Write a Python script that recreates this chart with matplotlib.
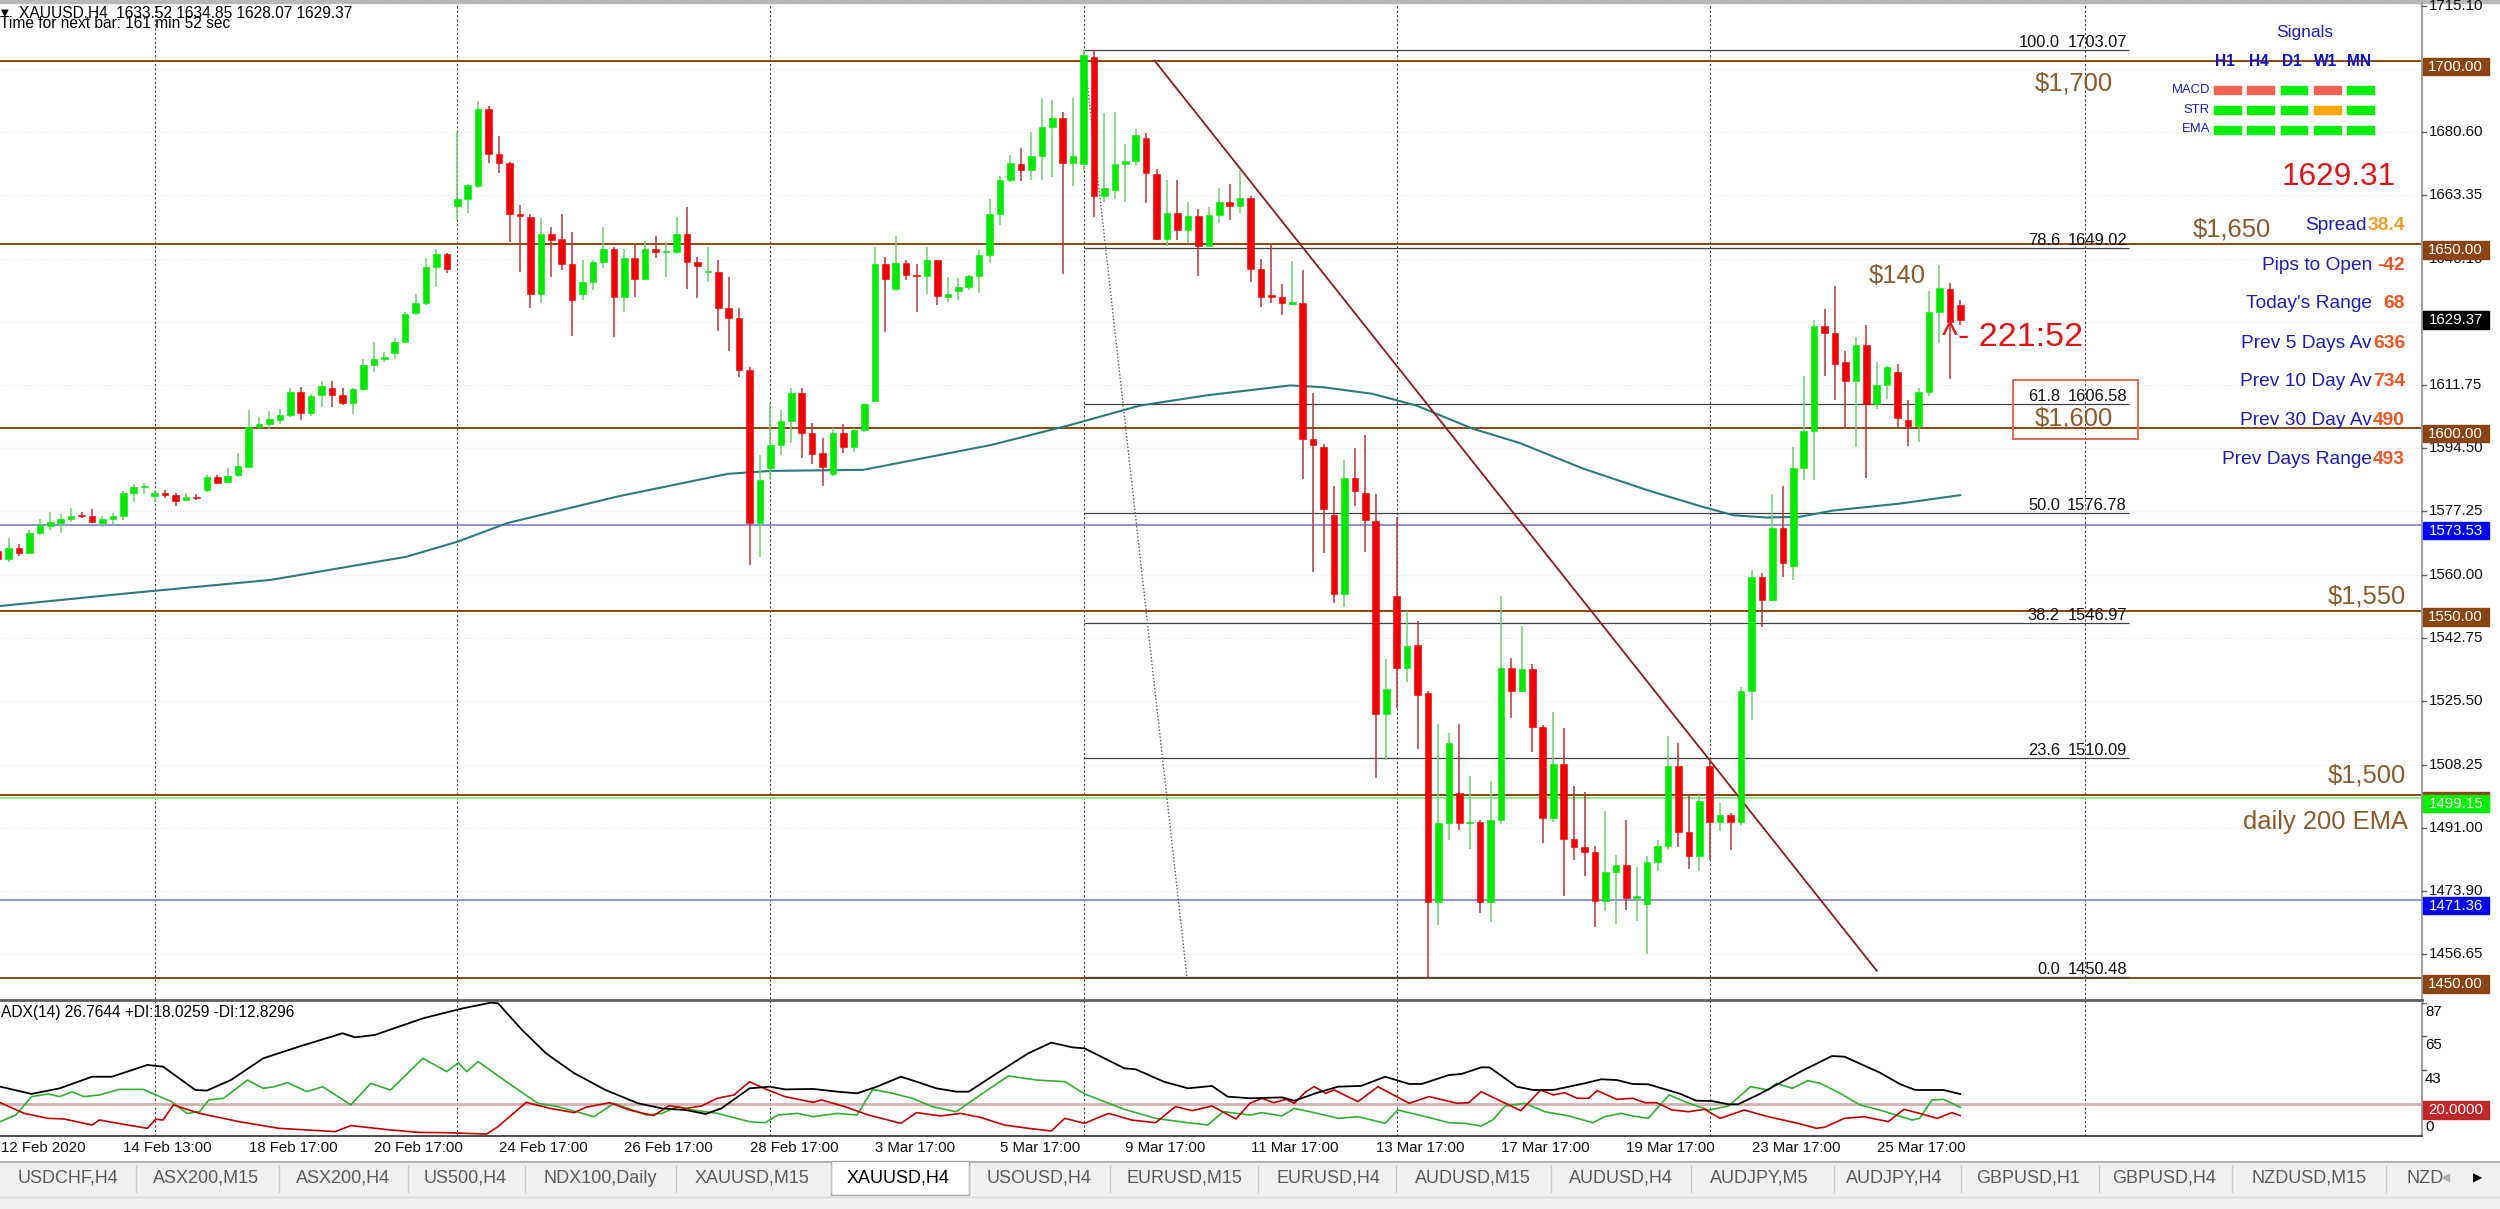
import numpy as np
import matplotlib
matplotlib.use("Agg")
import matplotlib.pyplot as plt
from matplotlib.patches import Rectangle
from matplotlib.transforms import Bbox, TransformedBbox

plt.rcParams['font.family'] = ['Liberation Sans', 'DejaVu Sans']

# ---------------------------------------------------------------- data
header_text = "XAUUSD,H4  1633.52 1634.85 1628.07 1629.37"
timer_text = "Time for next bar: 161 min 52 sec"
adx_text = "ADX(14) 26.7644 +DI:18.0259 -DI:12.8296"

opens = [
    1566.5, 1564.3, 1567.2, 1566.0, 1571.3, 1573.3, 1574.2, 1575.3, 1576.2, 1576.0,
    1574.2, 1575.2, 1576.0, 1582.4, 1584.0, 1581.4, 1582.3, 1581.7, 1580.3, 1581.2,
    1583.2, 1586.7, 1585.2, 1587.1, 1589.4, 1600.3, 1601.2, 1602.1, 1603.5, 1609.7,
    1604.2, 1608.9, 1611.0, 1608.9, 1606.7, 1610.5, 1617.1, 1618.9, 1620.3, 1623.5,
    1631.2, 1634.1, 1643.9, 1647.5, 1660.5, 1662.4, 1665.9, 1686.8, 1674.6, 1672.1,
    1658.3, 1657.5, 1636.6, 1652.8, 1651.4, 1644.8, 1636.6, 1639.8, 1645.1, 1648.9,
    1635.6, 1646.2, 1640.5, 1648.9, 1648.0, 1648.0, 1652.8, 1645.1, 1642.6, 1642.6,
    1632.8, 1630.1, 1615.8, 1574.0, 1589.0, 1595.3, 1602.0, 1609.4, 1598.7, 1593.1,
    1587.4, 1598.5, 1594.9, 1599.4, 1607.4, 1644.6, 1638.0, 1645.0, 1641.8, 1641.5,
    1645.7, 1635.7, 1637.4, 1638.3, 1641.5, 1647.1, 1658.3, 1667.5, 1671.9, 1670.4,
    1674.2, 1682.1, 1684.6, 1672.2, 1672.0, 1701.0, 1663.3, 1664.9, 1671.9, 1672.7,
    1678.9, 1669.3, 1651.6, 1658.6, 1653.9, 1657.8, 1649.7, 1658.1, 1661.7, 1660.6,
    1662.8, 1643.4, 1636.2, 1635.8, 1633.9, 1634.0, 1597.1, 1594.9, 1576.2, 1554.9,
    1586.3, 1582.4, 1574.6, 1522.0, 1554.1, 1534.6, 1540.8, 1527.7, 1470.9, 1492.3,
    1500.6, 1492.3, 1492.6, 1470.9, 1493.3, 1534.6, 1528.3, 1534.4, 1518.6, 1493.8,
    1508.4, 1488.1, 1485.8, 1484.6, 1471.2, 1478.9, 1480.9, 1472.0, 1470.4, 1481.8,
    1486.2, 1508.0, 1489.8, 1483.3, 1508.0, 1492.6, 1494.5, 1492.6, 1528.3, 1559.5,
    1553.2, 1572.7, 1562.3, 1589.0, 1599.1, 1627.7, 1626.0, 1617.9, 1612.8, 1622.6,
    1606.5, 1611.8, 1615.3, 1602.3, 1600.6, 1609.9, 1631.5, 1637.8, 1633.52]
highs = [
    1567.5, 1569.9, 1568.5, 1572.3, 1575.3, 1577.2, 1576.5, 1578.1, 1577.0, 1577.8,
    1576.0, 1576.9, 1582.9, 1584.7, 1584.9, 1583.1, 1583.1, 1582.3, 1582.4, 1582.1,
    1587.1, 1587.1, 1589.1, 1593.2, 1604.9, 1603.0, 1604.6, 1605.3, 1610.8, 1611.2,
    1609.2, 1612.8, 1612.8, 1610.8, 1611.0, 1618.9, 1623.5, 1620.8, 1624.4, 1631.7,
    1636.5, 1646.4, 1648.9, 1647.7, 1680.7, 1666.4, 1689.1, 1687.7, 1679.5, 1672.5,
    1660.7, 1658.4, 1657.1, 1654.8, 1658.3, 1653.5, 1645.9, 1645.7, 1654.8, 1649.2,
    1648.9, 1649.8, 1651.0, 1652.3, 1650.7, 1657.5, 1660.3, 1646.6, 1649.4, 1645.7,
    1641.2, 1632.6, 1616.7, 1592.6, 1606.7, 1605.0, 1610.8, 1610.8, 1601.4, 1597.4,
    1599.9, 1601.2, 1599.9, 1606.9, 1649.2, 1646.5, 1652.3, 1645.9, 1644.8, 1649.2,
    1645.9, 1641.2, 1641.0, 1641.8, 1648.5, 1662.3, 1668.7, 1674.3, 1676.4, 1680.7,
    1689.8, 1689.3, 1686.1, 1690.0, 1703.07, 1703.0, 1685.7, 1686.0, 1677.4, 1681.6,
    1680.5, 1670.6, 1667.5, 1667.5, 1661.7, 1659.7, 1660.2, 1665.3, 1666.4, 1670.3,
    1663.3, 1646.1, 1650.3, 1639.1, 1645.6, 1643.0, 1609.6, 1595.6, 1584.3, 1591.3,
    1594.5, 1598.1, 1582.0, 1537.1, 1575.7, 1550.2, 1547.5, 1528.3, 1519.4, 1517.0,
    1519.4, 1505.3, 1493.3, 1503.7, 1554.3, 1537.4, 1546.1, 1535.7, 1519.2, 1522.7,
    1518.2, 1502.4, 1500.8, 1486.2, 1495.7, 1483.7, 1493.2, 1480.5, 1483.3, 1487.7,
    1516.0, 1514.1, 1500.4, 1499.9, 1509.7, 1497.9, 1495.1, 1529.3, 1561.3, 1560.4,
    1582.0, 1584.1, 1594.7, 1614.3, 1629.3, 1632.3, 1638.7, 1620.9, 1624.7, 1628.0,
    1618.1, 1616.9, 1617.5, 1607.7, 1610.8, 1637.4, 1644.5, 1639.5, 1634.85]
lows = [
    1563.0, 1563.5, 1565.0, 1565.6, 1570.8, 1572.2, 1571.5, 1574.4, 1575.5, 1574.0,
    1573.1, 1573.5, 1574.9, 1579.9, 1582.0, 1579.9, 1581.0, 1578.7, 1580.0, 1580.5,
    1582.6, 1584.9, 1584.9, 1586.7, 1589.3, 1599.9, 1599.6, 1601.2, 1603.0, 1602.3,
    1603.2, 1605.8, 1605.8, 1606.2, 1603.7, 1610.2, 1615.3, 1618.0, 1618.9, 1623.3,
    1630.7, 1633.5, 1638.3, 1642.3, 1656.8, 1658.6, 1665.4, 1672.3, 1669.5, 1650.7,
    1642.6, 1632.8, 1634.1, 1641.2, 1643.0, 1625.0, 1635.0, 1637.7, 1643.7, 1624.7,
    1631.7, 1635.7, 1640.3, 1646.4, 1641.2, 1647.5, 1638.0, 1635.3, 1639.8, 1626.5,
    1621.0, 1613.8, 1562.7, 1564.9, 1586.0, 1592.6, 1595.8, 1591.7, 1590.3, 1584.2,
    1587.0, 1593.2, 1593.5, 1599.0, 1607.0, 1626.2, 1637.4, 1640.3, 1631.7, 1636.6,
    1633.5, 1634.4, 1635.0, 1637.6, 1636.9, 1645.0, 1655.3, 1667.1, 1667.3, 1667.5,
    1667.7, 1668.4, 1641.9, 1666.0, 1670.0, 1657.5, 1661.7, 1662.5, 1661.7, 1671.4,
    1661.3, 1651.3, 1649.7, 1651.3, 1650.3, 1641.4, 1649.5, 1655.9, 1656.6, 1658.6,
    1639.8, 1633.1, 1634.0, 1630.9, 1633.4, 1586.2, 1560.8, 1565.8, 1552.2, 1551.1,
    1578.8, 1566.3, 1504.5, 1509.5, 1523.6, 1530.8, 1512.4, 1450.5, 1464.6, 1487.6,
    1490.4, 1485.4, 1467.8, 1465.4, 1492.0, 1521.1, 1528.1, 1511.6, 1486.8, 1492.6,
    1472.5, 1482.4, 1478.0, 1464.0, 1468.5, 1464.9, 1468.7, 1465.7, 1456.8, 1479.2,
    1484.9, 1485.9, 1479.9, 1479.2, 1482.4, 1490.3, 1484.9, 1491.5, 1520.5, 1545.8,
    1552.8, 1559.5, 1558.5, 1585.8, 1585.8, 1614.1, 1607.7, 1599.7, 1594.7, 1586.4,
    1605.2, 1608.0, 1599.7, 1595.1, 1596.3, 1608.6, 1623.2, 1613.3, 1628.07]
closes = [
    1564.4, 1567.2, 1565.8, 1571.3, 1573.5, 1574.4, 1575.3, 1576.0, 1576.0, 1574.3,
    1575.1, 1576.0, 1582.4, 1583.8, 1584.2, 1582.3, 1581.7, 1580.2, 1581.2, 1581.0,
    1586.7, 1585.1, 1587.0, 1589.6, 1600.3, 1601.2, 1602.4, 1603.5, 1609.7, 1604.1,
    1608.8, 1611.4, 1609.1, 1606.7, 1610.5, 1617.1, 1618.8, 1619.4, 1623.3, 1631.0,
    1634.1, 1643.9, 1647.5, 1643.2, 1662.4, 1666.2, 1686.8, 1674.6, 1672.1, 1658.3,
    1657.7, 1636.6, 1652.8, 1651.2, 1644.6, 1634.8, 1639.8, 1645.1, 1648.9, 1635.6,
    1646.2, 1640.7, 1648.9, 1648.0, 1648.2, 1652.8, 1645.3, 1644.2, 1642.8, 1632.8,
    1630.1, 1615.8, 1574.0, 1585.8, 1595.3, 1602.0, 1609.4, 1598.7, 1592.9, 1589.4,
    1598.5, 1594.9, 1599.4, 1606.5, 1644.6, 1640.7, 1645.0, 1641.8, 1641.5, 1645.9,
    1636.0, 1636.6, 1638.3, 1641.5, 1647.1, 1658.3, 1667.5, 1672.1, 1670.4, 1674.2,
    1682.1, 1684.6, 1672.1, 1674.2, 1701.5, 1663.3, 1665.3, 1671.9, 1672.7, 1679.7,
    1669.6, 1651.6, 1658.6, 1653.9, 1657.8, 1649.7, 1658.1, 1661.7, 1660.6, 1662.8,
    1643.4, 1635.6, 1635.8, 1634.0, 1634.1, 1597.1, 1595.3, 1578.0, 1554.9, 1586.3,
    1582.7, 1574.9, 1522.0, 1528.8, 1534.6, 1540.5, 1527.2, 1470.9, 1492.3, 1514.2,
    1492.3, 1492.6, 1470.9, 1493.3, 1534.6, 1528.3, 1534.4, 1518.6, 1493.8, 1508.4,
    1488.1, 1485.8, 1484.6, 1471.2, 1479.0, 1480.8, 1472.0, 1472.5, 1481.8, 1486.2,
    1508.0, 1489.8, 1483.3, 1498.3, 1492.6, 1494.5, 1492.6, 1528.3, 1559.5, 1553.2,
    1572.7, 1563.3, 1589.0, 1599.1, 1627.7, 1626.0, 1617.5, 1612.8, 1622.6, 1606.5,
    1611.8, 1616.6, 1602.7, 1600.6, 1609.9, 1631.5, 1638.2, 1628.9, 1629.37]

ema_bars = [0.2, 12.6, 26.1, 39.1, 44.0, 48.8, 59.3, 69.9, 74.0, 82.9, 95.2, 102.7,
            109.4, 115.8, 123.8, 127.0, 131.7, 135.9, 141.3, 145.8, 151.9, 158.3,
            163.1, 166.3, 169.5, 172.6, 175.8, 182.2, 188.0]
ema_vals = [1551.5, 1555.0, 1558.6, 1564.9, 1569.0, 1574.1, 1581.3, 1587.5, 1588.3,
            1588.6, 1595.4, 1600.8, 1606.1, 1608.9, 1611.6, 1611.1, 1609.3, 1606.1,
            1599.8, 1595.9, 1588.9, 1582.8, 1578.7, 1576.2, 1575.6, 1575.8, 1577.5,
            1579.4, 1581.7]

adx_bars = [0.2, 3.2, 5.9, 9.0, 10.9, 14.3, 15.8, 18.9, 20.0, 22.3, 25.4, 28.8, 33.0,
            34.2, 36.1, 40.7, 44.5, 47.2, 47.9, 50.2, 52.5, 55.2, 58.2, 61.3, 63.6,
            65.9, 67.8, 69.3, 72.0, 73.9, 75.4, 78.1, 80.4, 82.3, 84.2, 86.5, 88.0,
            89.9, 91.8, 93.0, 95.7, 98.7, 100.9, 102.9, 104.1, 107.9, 109.0, 111.7,
            114.0, 116.3, 117.8, 120.0, 123.0, 124.2, 126.4, 128.4, 130.6, 132.9,
            135.2, 136.4, 139.0, 140.2, 142.1, 142.9, 145.5, 147.1, 149.0, 152.0,
            153.6, 155.1, 156.6, 158.1, 161.2, 162.7, 164.2, 165.8, 166.7, 168.8,
            172.7, 175.7, 176.9, 180.3, 182.2, 183.7, 185.6, 186.4, 188.0]
adx_vals = [31.7, 26.9, 30.6, 38.3, 38.3, 46.1, 45.0, 29.5, 29.1, 36.1, 50.5, 58.2, 67.1,
            64.4, 66.0, 77.0, 83.6, 87.4, 87.0, 69.3, 53.8, 40.6, 29.5, 20.7, 17.3,
            16.2, 13.6, 17.3, 30.6, 31.7, 29.9, 30.2, 28.4, 27.3, 31.7, 38.3, 35.0,
            30.6, 28.4, 28.4, 40.6, 53.8, 60.9, 57.8, 57.1, 43.9, 43.2, 35.0,
            30.6, 32.2, 25.1, 24.0, 24.6, 22.4, 27.7, 31.7, 32.2, 38.3,
            33.5, 33.5, 39.4, 40.1, 44.5, 44.5, 31.7, 29.5, 29.5, 33.9,
            36.6, 36.1, 33.5, 33.3, 26.9, 22.4, 22.2, 20.0, 20.0, 26.9,
            41.7, 52.0, 51.6, 41.0, 33.5, 29.5, 29.5, 29.5, 26.8]

pdi_bars = [0.2, 1.7, 3.2, 4.8, 5.9, 7.1, 8.2, 9.7, 11.6, 13.9, 16.6, 18.1, 19.3, 20.2,
            21.6, 23.9, 25.4, 26.5, 27.7, 29.6, 31.1, 33.8, 35.7, 37.6, 40.7, 43.0,
            44.1, 44.9, 46.0, 48.7, 51.7, 53.6, 57.1, 59.0, 62.1, 63.6, 65.1, 66.6,
            68.9, 72.0, 73.5, 74.7, 76.6, 78.1, 80.4, 82.3, 83.8, 85.7, 87.6, 89.5,
            91.8, 94.1, 96.8, 99.5, 102.2, 104.1, 107.9, 110.9, 114.0, 115.9, 117.4,
            119.95, 121.1, 123.0, 124.2, 126.4, 128.4, 130.3, 132.9, 134.1, 136.8,
            139.0, 140.6, 142.1, 143.2, 144.4, 146.3, 148.2, 150.5, 152.8, 153.9,
            155.5, 156.6, 158.1, 160.1, 162.0, 163.9, 165.8, 167.9, 169.6, 170.4,
            171.9, 173.4, 174.6, 176.5, 178.4, 180.3, 183.4, 184.1, 185.3, 186.4, 188.0]
pdi_vals = [8.5, 12.9, 25.1, 26.9, 25.1, 28.4, 25.1, 26.2, 29.9, 29.9, 21.8, 14.0, 15.1,
            22.9, 24.0, 36.1, 30.6, 31.7, 34.4, 28.4, 31.7, 19.6, 33.9, 29.5, 50.5,
            41.7, 47.6, 41.7, 48.3, 35.0, 20.7, 18.5, 11.8, 20.7, 12.9, 14.0, 18.5,
            16.2, 14.0, 8.5, 7.8, 12.9, 14.0, 11.8, 14.0, 12.9, 29.9, 27.3, 24.0,
            18.5, 15.1, 26.2, 38.8, 36.1, 35.0, 26.9, 16.7, 10.7, 7.8, 6.3, 15.1,
            12.9, 14.5, 12.3, 17.3, 14.0, 10.7, 11.8, 7.4, 16.2, 11.8,
            7.8, 7.4, 5.6, 9.6, 18.9, 20.7, 15.1, 12.3, 7.8, 11.8,
            14.0, 12.3, 10.7, 26.2, 20.7, 16.2, 18.9, 31.7, 29.5, 33.9,
            30.6, 35.7, 33.9, 27.3, 19.6, 16.2, 9.6, 10.7, 22.9, 23.3, 18.0]

mdi_bars = [0.2, 2.5, 4.8, 6.3, 9.0, 9.7, 12.4, 14.3, 15.1, 15.8, 16.8, 19.3, 23.1,
            26.9, 32.3, 33.8, 37.6, 40.3, 42.9, 46.8, 47.9, 50.6, 52.9, 55.2, 56.3,
            58.6, 60.5, 62.8, 64.3, 65.9, 67.4, 68.9, 70.5, 72.0, 73.5, 75.4, 78.1,
            78.9, 81.1, 83.4, 86.5, 88.0, 90.3, 92.2, 94.1, 96.4, 98.7, 100.9, 102.2,
            104.1, 106.4, 108.6, 110.9, 112.8, 114.4, 116.3, 118.6,
            119.95, 121.1, 122.2, 123.4, 124.2, 125.3, 126.1, 127.2, 128.0, 130.3,
            132.2, 135.2, 137.1, 139.8, 140.9, 142.1, 144.4, 145.9, 147.8, 149.0,
            150.1, 151.3, 152.4, 153.2, 155.1, 156.6, 157.8, 158.9, 160.4, 162.0,
            163.5, 165.0, 167.3, 169.6, 172.7, 174.2, 175.0, 176.9, 178.8, 181.1,
            182.6, 184.1, 185.8, 187.2, 188.0]
mdi_vals = [21.1, 14.0, 10.7, 10.3, 6.3, 9.6, 6.3, 4.1, 10.1, 9.6, 19.6, 14.0, 8.5,
            4.1, 1.9, 5.9, 3.0, 1.4, 1.2, 0.3, 5.2, 21.3, 17.3, 14.5, 18.0,
            21.1, 16.2, 12.5, 19.1, 17.3, 18.9, 24.0, 26.2, 35.0, 30.2, 25.1, 21.3,
            22.9, 18.5, 12.9, 7.4, 14.5, 12.3, 14.0, 11.4, 6.3, 4.1, 2.3, 10.7,
            7.4, 14.0, 9.6, 7.8, 18.5, 15.8, 18.9, 10.3,
            20.7, 24.0, 21.1, 23.3, 20.7, 28.4, 31.7, 27.3, 29.5, 21.8,
            31.7, 20.7, 25.1, 20.7, 21.1, 28.4, 20.7, 15.8, 29.5, 26.2,
            27.7, 24.0, 24.0, 29.1, 23.3, 24.0, 21.1, 21.1, 16.2, 15.1,
            16.7, 10.7, 16.2, 11.8, 7.0, 4.1, 4.8, 10.7, 11.8, 8.5,
            16.7, 14.0, 10.7, 14.5, 12.5]

round_levels = [1700.0, 1650.0, 1600.0, 1550.0, 1500.0, 1450.0]
blue_levels = [1573.53, 1471.36]
ema200_daily = 1499.15
adx_level = 20.0

fib_names = ['100.0', '78.6', '61.8', '50.0', '38.2', '23.6', '0.0']
fib_prices = [1703.07, 1649.02, 1606.58, 1576.78, 1546.97, 1510.09, 1450.48]
fib_span = [104, 204.2]
fib_diag_bars = [104, 113.9]
fib_diag_prices = [1703.07, 1450.48]
trend_bars = [110.8, 180.0]
trend_prices = [1700.1, 1452.1]

price_ticks = ['1715.10', '1697.85', '1680.60', '1663.35', '1646.10', '1628.85',
               '1611.75', '1594.50', '1577.25', '1560.00', '1542.75', '1525.50',
               '1508.25', '1491.00', '1473.90', '1456.65']
adx_ticks = [87, 65, 43, 0]
time_labels = ['12 Feb 2020', '14 Feb 13:00', '18 Feb 17:00', '20 Feb 17:00',
               '24 Feb 17:00', '26 Feb 17:00', '28 Feb 17:00', '3 Mar 17:00',
               '5 Mar 17:00', '9 Mar 17:00', '11 Mar 17:00', '13 Mar 17:00',
               '17 Mar 17:00', '19 Mar 17:00', '23 Mar 17:00', '25 Mar 17:00']
time_label_bars = [0, 12, 24, 36, 48, 60, 72, 84, 96, 108, 120, 132, 144, 156, 168, 180]
week_grid_bars = [15, 44, 74, 104, 134, 164, 200]

signal_cols = ['H1', 'H4', 'D1', 'W1', 'MN']
signal_rows = ['MACD', 'STR', 'EMA']
signal_states = [['dn', 'dn', 'up', 'dn', 'up'],
                 ['up', 'up', 'up', 'nt', 'up'],
                 ['up', 'up', 'up', 'up', 'up']]
bid_text = '1629.31'
info_labels = ['Spread', 'Pips to Open', "Today's Range", 'Prev 5 Days Av',
               'Prev 10 Day Av', 'Prev 30 Day Av', 'Prev Days Range']
info_values = ['38.4', '-42', '68', '636', '734', '490', '493']

tab_names = ['USDCHF,H4', 'ASX200,M15', 'ASX200,H4', 'US500,H4', 'NDX100,Daily',
             'XAUUSD,M15', 'XAUUSD,H4', 'USOUSD,H4', 'EURUSD,M15', 'EURUSD,H4',
             'AUDUSD,M15', 'AUDUSD,H4', 'AUDJPY,M5', 'AUDJPY,H4', 'GBPUSD,H1',
             'GBPUSD,H4', 'NZDUSD,M15', 'NZD']
active_tab = 'XAUUSD,H4'

# ---------------------------------------------------------------- layout
W, H = 2500, 1209
MAIN_TOP, MAIN_BOT, ADX_TOP, ADX_BOT, PLOT_R = 3, 999, 1001, 1136, 2422
X0, DX = -1.9, 10.437           # pixel x of bar 0 and bar spacing
YMIN, YMAX = 1444.41, 1715.80
VMIN, VMAX = -1.0, 88.5
PT = 0.72                       # points per pixel at 100 dpi

fig = plt.figure(figsize=(W / 100, H / 100), dpi=100)
fig.patch.set_facecolor('white')

def frac_rect(x0, y0, x1, y1):
    return [x0 / W, 1 - y1 / H, (x1 - x0) / W, (y1 - y0) / H]

ax = fig.add_axes(frac_rect(0, MAIN_TOP, PLOT_R, MAIN_BOT))
ax2 = fig.add_axes(frac_rect(0, ADX_TOP, PLOT_R, ADX_BOT))
xlim = ((0 - X0) / DX, (PLOT_R - X0) / DX)
for a in (ax, ax2):
    a.set_xlim(*xlim)
    a.set_xticks([]); a.set_yticks([])
    for s in a.spines.values():
        s.set_visible(False)
ax.set_ylim(YMIN, YMAX)
ax2.set_ylim(VMIN, VMAX)

def py(p):
    return MAIN_TOP + (YMAX - p) / (YMAX - YMIN) * (MAIN_BOT - MAIN_TOP)

def pv(v):
    return ADX_TOP + (VMAX - v) / (VMAX - VMIN) * (ADX_BOT - ADX_TOP)

def bx(i):
    return X0 + DX * i

def xb(px):
    return (px - X0) / DX

# faint horizontal grid at price ticks
for t in price_ticks:
    ax.axhline(float(t), color='#E8E8E8', lw=0.8, ls=(0, (1, 2)), zorder=0)
# weekly dashed separators
for b in week_grid_bars:
    ax.axvline(b, color='#404040', lw=0.8, ls=(0, (2, 2)), zorder=1)
    ax2.axvline(b, color='#404040', lw=0.8, ls=(0, (2, 2)), zorder=1)

# horizontal levels
for lv in round_levels:
    ax.axhline(lv, color='#8B4513', lw=1.4, zorder=2)
for lv in blue_levels:
    ax.axhline(lv, color='#9090D0', lw=1.4, zorder=2)
ax.axhline(ema200_daily, color='#90E890', lw=1.4, zorder=2)

# fibonacci
fs_fib = 16.5 * PT
for name, fp in zip(fib_names, fib_prices):
    ax.hlines(fp, fib_span[0], fib_span[1], color='#404040', lw=0.9, zorder=2)
    ax.text(xb(2127), fp + 0.8, f'{fp:.2f}', ha='right', va='baseline',
            fontsize=fs_fib, color='#111111', zorder=6)
    ax.text(xb(2060), fp + 0.8, name, ha='right', va='baseline',
            fontsize=fs_fib, color='#111111', zorder=6)
ax.plot(fib_diag_bars, fib_diag_prices, color='#555555', lw=1.0, ls=(0, (1, 1.5)), zorder=2)

# EMA & trend line
ax.plot(ema_bars, ema_vals, color='#2A7A7E', lw=1.5, zorder=3)
ax.plot(trend_bars, trend_prices, color='#8B1A1A', lw=1.3, zorder=3)

# candles
idx = np.arange(len(opens))
o = np.array(opens); c = np.array(closes); hi = np.array(highs); lo = np.array(lows)
up = c >= o
for mask, body, wick in [(up, '#00E800', '#70D070'), (~up, '#F00000', '#B03838')]:
    ax.vlines(idx[mask], lo[mask], hi[mask], color=wick, lw=1.1, zorder=4)
    bot = np.minimum(o, c)[mask]
    hgt = np.maximum(np.abs(c - o)[mask], 0.3)
    ax.bar(idx[mask], hgt, bottom=bot, width=0.63, color=body, edgecolor=body,
           lw=0.4, zorder=5)

# annotations on chart (data coords)
brown = '#8B5A2B'
fs_big = 25.5 * PT
ax.text(xb(2035), 1694.0, '$1,700', color=brown, fontsize=fs_big, ha='left', va='center', zorder=7)
ax.text(xb(2193), 1654.0, '$1,650', color=brown, fontsize=fs_big, ha='left', va='center', zorder=7)
ax.text(xb(2035), 1602.7, '$1,600', color=brown, fontsize=fs_big, ha='left', va='center', zorder=7)
ax.text(xb(2406), 1554.0, '$1,550', color=brown, fontsize=fs_big, ha='right', va='center', zorder=7)
ax.text(xb(2406), 1505.3, '$1,500', color=brown, fontsize=fs_big, ha='right', va='center', zorder=7)
ax.text(xb(2408), 1492.7, 'daily 200 EMA', color=brown, fontsize=fs_big, ha='right', va='center', zorder=7)
ax.text(xb(1869), 1641.5, '$140', color=brown, fontsize=fs_big, ha='left', va='center', zorder=7)
ax.text(xb(1942), 1624.6, '^- 221:52', color='#E01414', fontsize=34 * PT, ha='left', va='center', zorder=7)
ax.add_patch(Rectangle((xb(2012.7), 1596.9), (2138.3 - 2012.7) / DX, 16.2,
                       fill=False, ec='#E06A55', lw=1.4, zorder=7))

# ADX panel
ax2.axhline(adx_level, color='#D4B0B0', lw=2.0, zorder=2)
ax2.plot(adx_bars, adx_vals, color='#000000', lw=1.3, zorder=4)
ax2.plot(pdi_bars, pdi_vals, color='#30B030', lw=1.2, zorder=3)
ax2.plot(mdi_bars, mdi_vals, color='#C00000', lw=1.2, zorder=3)

# ---------------------------------------------------------------- chrome overlay (pixel coords)
ov = fig.add_axes([0, 0, 1, 1], zorder=10)
ov.set_xlim(0, W); ov.set_ylim(H, 0); ov.axis('off'); ov.patch.set_alpha(0)

ov.add_patch(Rectangle((0, 0), W, 2.5, color='#B8B8B8'))
ov.plot([PLOT_R, PLOT_R], [MAIN_TOP, ADX_BOT], color='#A0A0A0', lw=1.5)
ov.plot([0, PLOT_R], [999.5, 999.5], color='#606060', lw=2.0)
ov.plot([0, PLOT_R], [ADX_BOT, ADX_BOT], color='#303030', lw=1.2)

fs_small = 15.5 * PT
ov.text(1, 13, '\u25BC', fontsize=10 * PT, ha='left', va='center', family=['DejaVu Sans'])
ov.text(18.7, 13, header_text, fontsize=fs_small, ha='left', va='center')
ov.text(0, 23, timer_text, fontsize=fs_small, ha='left', va='center')
ov.text(1, 1012.7, adx_text, fontsize=fs_small, ha='left', va='center')

# price axis: boxes define which tick labels stay visible
fs_axis = 15 * PT
box_specs = []
for lv in round_levels:
    box_specs.append((py(lv), f'{lv:.2f}', '#8B4513', False))
box_specs.append((py(ema200_daily), f'{ema200_daily:.2f}', '#00F000', False))
for lv in blue_levels:
    box_specs.append((py(lv), f'{lv:.2f}', '#0000FF', False))
box_specs.append((py(closes[-1]), f'{closes[-1]:.2f}', '#000000', True))
box_specs.append((pv(adx_level), f'{adx_level:.4f}', '#C02828', False))
box_spans = []
for yl, lab, col, cen in box_specs:
    top = yl - 8.7 if cen else yl - 3
    box_spans.append((top, top + 17.2))

for t in price_ticks:
    yy = py(float(t))
    if not (MAIN_TOP - 2 < yy < MAIN_BOT - 8):
        continue
    if any(a0 - 2 < yy < a1 + 2 for a0, a1 in box_spans):
        covered_top = [a1 for a0, a1 in box_spans if a0 - 2 < yy < a1 + 2]
        if yy + 7 <= max(covered_top):
            continue
        txt = ov.text(2429, yy, t, fontsize=fs_axis, ha='left', va='center', color='#111111')
        clip = TransformedBbox(Bbox([[2422, max(covered_top)], [W, yy + 20]]), ov.transData)
        txt.set_clip_box(clip); txt.set_clip_on(True)
        continue
    ov.plot([PLOT_R, PLOT_R + 4], [yy, yy], color='#606060', lw=1)
    ov.text(2429, yy, t, fontsize=fs_axis, ha='left', va='center', color='#111111')

for k, (yl, lab, col, cen) in enumerate(box_specs):
    top = yl - 8.7 if cen else yl - 3
    z = 5 + 2 * k
    ov.add_patch(Rectangle((2422.7, top), 66, 17.2, color=col, zorder=z))
    ov.text(2455.7, top + 8.8, lab, fontsize=fs_axis, color='white', ha='center',
            va='center', zorder=z + 1)

for v in adx_ticks:
    yy = pv(v)
    if v > 0:
        ov.plot([PLOT_R, PLOT_R + 4], [yy, yy], color='#606060', lw=1)
        ov.text(2425, yy + 9, str(v), fontsize=fs_axis, ha='left', va='center')
    else:
        ov.text(2425, yy - 7.5, str(v), fontsize=fs_axis, ha='left', va='center')

# time labels
for lab, b in zip(time_labels, time_label_bars):
    ov.text(max(bx(b), 1), 1148, lab, fontsize=15 * PT, ha='left', va='center', color='#111111')

# signals panel
navy = '#1E1EB4'
ov.text(2304.5, 32.3, 'Signals', fontsize=17.5 * PT, color=navy, ha='center', va='center')
col_x = [2227.3, 2260.7, 2294.0, 2327.3, 2360.7]
for cx, name in zip(col_x, signal_cols):
    ov.text(cx - 2, 61, name, fontsize=15.5 * PT, color='#1010C8', weight='bold', ha='center', va='center')
row_y = [90, 110, 129.5]
state_col = {'up': '#00EE00', 'dn': '#F26450', 'nt': '#FFA500'}
for ry, rname, states in zip(row_y, signal_rows, signal_states):
    ov.text(2210, ry, rname, fontsize=13 * PT, color=navy, ha='right', va='center')
    for cx, st in zip(col_x, states):
        ov.add_patch(Rectangle((cx - 13.3, ry - 4), 26.6, 8, color=state_col[st]))
ov.text(2338.3, 176.7, bid_text, fontsize=31.5 * PT, color='#E01414', ha='center', va='center')

info_y = [225.7, 265, 303.3, 343.3, 381.7, 420.7, 460]
for yy, lab, val in zip(info_y, info_labels, info_values):
    right = 2367 if lab == 'Spread' else 2372
    ov.text(right, yy, lab, fontsize=19.2 * PT, color=navy, ha='right', va='center')
    vcol = '#F0A030' if lab == 'Spread' else '#EE5522'
    ov.text(2405, yy, val, fontsize=19.2 * PT, color=vcol, weight='bold', ha='right', va='center')

# tab bar
ov.add_patch(Rectangle((0, 1161), W, 48, color='#F0F0F0', zorder=1))
ov.plot([0, W], [1161.5, 1161.5], color='#A8A8A8', lw=1.2)
tab_centers = [68, 206.5, 343, 465, 600, 752.5, 898.5, 1039, 1184.6, 1328.5, 1473,
               1620.7, 1759, 1894, 2028, 2164, 2308.7, 2425]
tab_seps = [135.5, 279, 408.2, 524.6, 676, 830.7, 968.6, 1109.7, 1258, 1395.9, 1550.5,
            1690.8, 1834.3, 1961.1, 2099, 2232.1, 2386]
ov.add_patch(Rectangle((830.7, 1161), 968.6 - 830.7, 34, fc='white', ec='#A8A8A8', lw=1, zorder=2))
for sx in tab_seps:
    ov.plot([sx, sx], [1166, 1192], color='#C8C8C8', lw=1)
for name, cx in zip(tab_names, tab_centers):
    active = name == active_tab
    ov.text(cx, 1178.3, name, fontsize=18 * PT, color='#000000' if active else '#5A5A5A',
            ha='center', va='center', zorder=3)
ov.text(2446, 1178, '\u25C0', fontsize=12 * PT, color='#B0B0B0', ha='center', va='center', family=['DejaVu Sans'])
ov.text(2478, 1178, '\u25B6', fontsize=12 * PT, color='#000000', ha='center', va='center', family=['DejaVu Sans'])
ov.plot([0, W], [1196.5, 1196.5], color='#D8D8D8', lw=1)

fig.savefig('out.png', dpi=100, facecolor='white')
